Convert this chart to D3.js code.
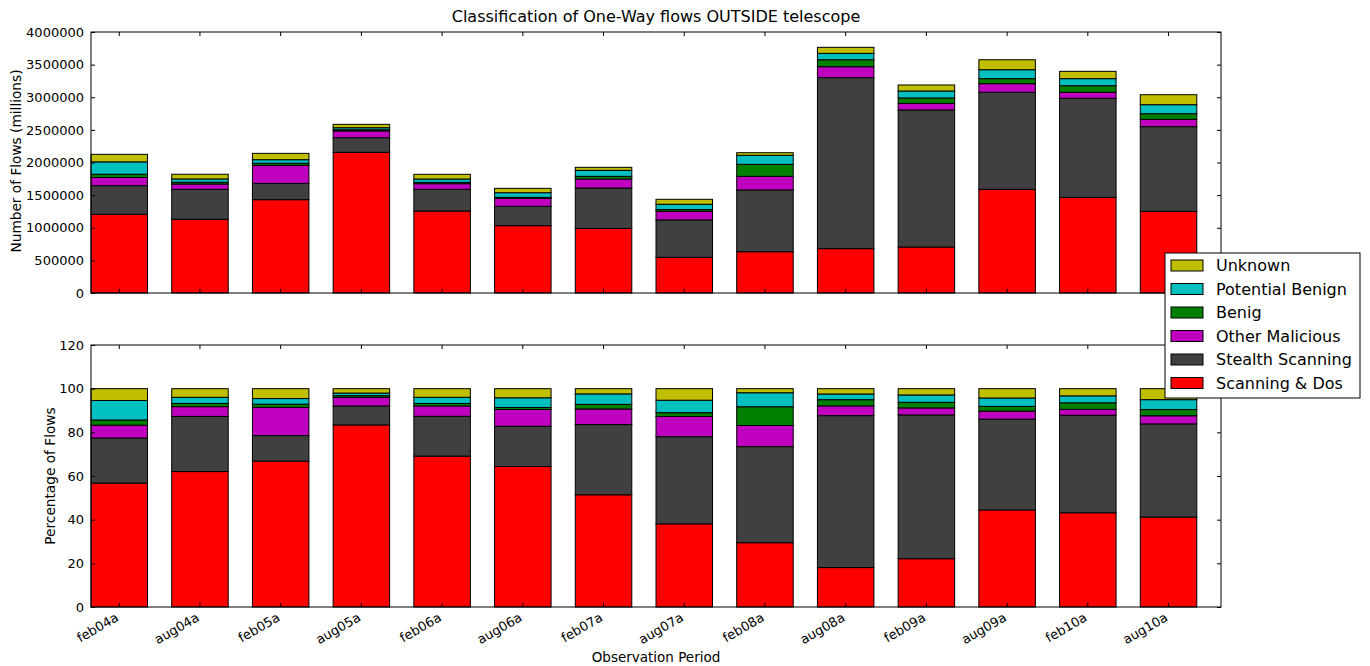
<!DOCTYPE html>
<html><head><meta charset="utf-8">
<script src="https://cdnjs.cloudflare.com/ajax/libs/d3/7.8.5/d3.min.js"></script>
<style>
body{margin:0;background:#fff}
text{font-family:"DejaVu Sans",sans-serif;fill:#000}
</style>
</head><body>
<svg id="chart" width="1370" height="666"></svg>
<script>
// ---------- data ----------
const periods = ["feb04a","aug04a","feb05a","aug05a","feb06a","aug06a","feb07a","aug07a","feb08a","aug08a","feb09a","aug09a","feb10a","aug10a"];
const seriesNames = ["Scanning & Dos","Stealth Scanning","Other Malicious","Benig","Potential Benign","Unknown"];
const seriesColors = ["#ff0000","#404040","#bf00bf","#008000","#00bfbf","#bfbf00"];
const scanningDos     = [1206000,1129000,1430000,2156000,1257000,1032000, 990000, 547000, 633000, 680000, 705000,1589000,1466000,1252000];
const stealthScanning = [ 439000, 460000, 250000, 224000, 332000, 296000, 619000, 573000, 946000,2620000,2100000,1487000,1518000,1297000];
const otherMalicious  = [ 125000,  81000, 277000, 103000,  86000, 123000, 138000, 133000, 209000, 168000, 102000, 132000,  92000, 113000];
const benig           = [  50000,  27000,  31000,  19000,  21000,  15000,  41000,  25000, 184000, 107000,  82000,  77000, 101000,  86000];
const potentialBenign = [ 190000,  51000,  55000,  31000,  51000,  71000,  92000,  82000, 138000,  98000, 107000, 137000, 108000, 138000];
const unknown         = [ 115000,  72000,  97000,  52000,  72000,  67000,  46000,  76000,  40000,  92000,  92000, 153000, 112000, 153000];
const countTicks = [0,500000,1000000,1500000,2000000,2500000,3000000,3500000,4000000];
const pctTicks = [0,20,40,60,80,100,120];

const seriesValues = [scanningDos,stealthScanning,otherMalicious,benig,potentialBenign,unknown];
const rows = periods.map((p,i)=>{
  const r = {period:p};
  seriesNames.forEach((s,k)=>{ r[s] = seriesValues[k][i]; });
  return r;
});

// ---------- layout ----------
const svg = d3.select("#chart");
const L = 91, R = 1221;
const top1 = 32, bot1 = 293, top2 = 345, bot2 = 607;

const x = d3.scaleBand().domain(periods).range([L,R]).paddingInner(0.3).paddingOuter(0.15).align(0);
const y1 = d3.scaleLinear().domain([0,4000000]).range([bot1,top1]);
const y2 = d3.scaleLinear().domain([0,120]).range([bot2,top2]);

const stackAbs = d3.stack().keys(seriesNames)(rows);
const stackPct = d3.stack().keys(seriesNames).offset(d3.stackOffsetExpand)(rows);

function drawBars(stacked, yScale, mult){
  const g = svg.append("g");
  g.selectAll("g").data(stacked).join("g")
    .attr("fill",(d,i)=>seriesColors[i])
    .selectAll("rect").data(d=>d).join("rect")
      .attr("x",d=>x(d.data.period))
      .attr("width",x.bandwidth())
      .attr("y",d=>yScale(d[1]*mult))
      .attr("height",d=>yScale(d[0]*mult)-yScale(d[1]*mult))
      .attr("stroke","#000").attr("stroke-width",1);
}
drawBars(stackAbs,y1,1);
drawBars(stackPct,y2,100);

function frame(t,b,yScale,ticks,fmt){
  const gb = svg.append("g").attr("transform",`translate(0,${b})`)
    .call(d3.axisBottom(x).tickSize(-4).tickFormat(""));
  const gt = svg.append("g").attr("transform",`translate(0,${t})`)
    .call(d3.axisTop(x).tickSize(-4).tickFormat(""));
  const gl = svg.append("g").attr("transform",`translate(${L},0)`)
    .call(d3.axisLeft(yScale).tickValues(ticks).tickSize(-4).tickPadding(7).tickFormat(fmt));
  const gr = svg.append("g").attr("transform",`translate(${R},0)`)
    .call(d3.axisRight(yScale).tickValues(ticks).tickSize(-4).tickFormat(""));
  [gb,gt,gl,gr].forEach(g=>{
    g.select(".domain").remove();
    g.selectAll(".tick line").attr("stroke","#000");
  });
  gl.selectAll(".tick text").attr("font-size",13).attr("font-family","DejaVu Sans").attr("fill","#000");
  svg.append("rect").attr("x",L).attr("y",t).attr("width",R-L).attr("height",b-t)
    .attr("fill","none").attr("stroke","#000").attr("stroke-width",1);
}
frame(top1,bot1,y1,countTicks,d3.format("d"));
frame(top2,bot2,y2,pctTicks,d3.format("d"));

// x tick labels (bottom chart)
svg.append("g").selectAll("text").data(periods).join("text")
  .attr("transform",d=>`translate(${x(d)+x.bandwidth()/2-5},${bot2+4}) rotate(-30)`)
  .attr("text-anchor","end").attr("dy","0.8em")
  .attr("font-size",13).text(d=>d);

// titles and labels
svg.append("text").attr("x",(L+R)/2).attr("y",22).attr("text-anchor","middle")
  .attr("font-size",16).text("Classification of One-Way flows OUTSIDE telescope");
svg.append("text").attr("transform",`translate(21,161) rotate(-90)`).attr("text-anchor","middle")
  .attr("font-size",13.7).text("Number of Flows (millions)");
svg.append("text").attr("transform",`translate(55,476) rotate(-90)`).attr("text-anchor","middle")
  .attr("font-size",13.7).text("Percentage of Flows");
svg.append("text").attr("x",(L+R)/2).attr("y",662).attr("text-anchor","middle")
  .attr("font-size",13.5).text("Observation Period");

// legend
const lg = svg.append("g").attr("transform","translate(1165,253)");
lg.append("rect").attr("width",195).attr("height",145).attr("fill","#fff").attr("stroke","#000").attr("stroke-width",1);
const legendOrder = seriesNames.map((s,i)=>({s,c:seriesColors[i]})).reverse();
const items = lg.selectAll("g.item").data(legendOrder).join("g").attr("class","item")
  .attr("transform",(d,i)=>`translate(0,${12.5+i*23.5})`);
items.append("rect").attr("x",6).attr("y",-5.5).attr("width",32).attr("height",11)
  .attr("fill",d=>d.c).attr("stroke","#000").attr("stroke-width",1);
items.append("text").attr("x",51).attr("y",0).attr("dy","0.35em").attr("font-size",16).text(d=>d.s);
</script>
</body></html>
